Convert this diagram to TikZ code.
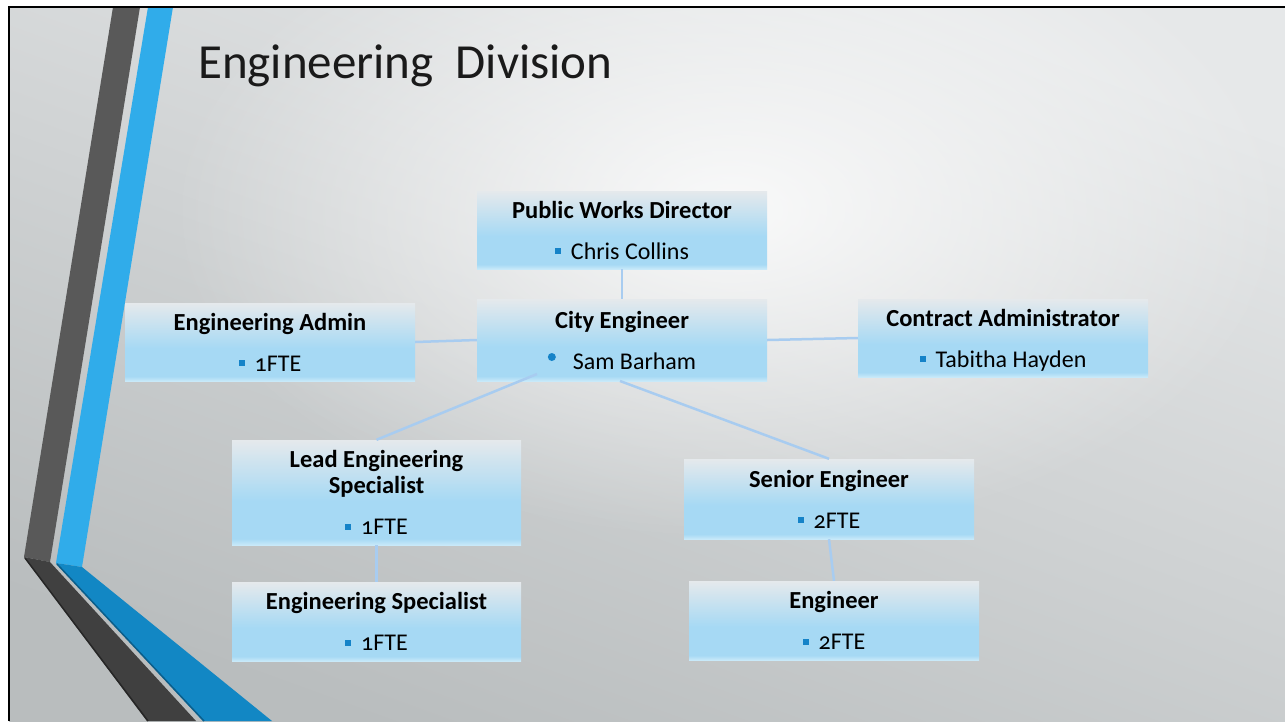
\documentclass[tikz,border=0pt]{standalone}
\usepackage{fontspec}
\setmainfont{Carlito}
\newfontfamily\onumfont[Numbers=OldStyle]{Carlito}
\usetikzlibrary{calc,fadings}
\definecolor{boxtop}{HTML}{E5E9EC}
\definecolor{boxmid}{HTML}{A6D9F4}
\definecolor{boxbot}{HTML}{C8E9F9}
\definecolor{bgtop}{HTML}{E6E8E9}
\definecolor{bgbot}{HTML}{B9BDBE}
\definecolor{bulblue}{HTML}{1583C8}
\definecolor{linkblue}{HTML}{A8CCF0}
\definecolor{banddark}{HTML}{595959}
\definecolor{banddarklow}{HTML}{404040}
\definecolor{bandblue}{HTML}{30ACEA}
\definecolor{bandbluelow}{HTML}{1287C4}
\definecolor{edgeblue}{HTML}{0B5E8A}
\definecolor{titlecol}{HTML}{1A1A1A}
\pgfdeclareverticalshading{boxshade}{100bp}{color(0bp)=(boxbot); color(25bp)=(boxbot); color(28bp)=(boxmid); color(46bp)=(boxmid); color(75bp)=(boxtop); color(100bp)=(boxtop)}
\tikzfading[name=spotfade, inner color=transparent!15, outer color=transparent!100]
\newcommand{\sqbul}{\textcolor{bulblue}{\rule[5pt]{6pt}{6pt}}\hspace{10pt}}
\newcommand{\fte}[1]{{\onumfont #1}}
\newcommand{\hd}[1]{{\fontsize{24.5}{26}\selectfont\bfseries #1}}
\newcommand{\nodepth}[1]{\raisebox{0pt}[\height][0pt]{#1}}
\tikzset{
  orgbox/.style={minimum width=290, minimum height=78, inner sep=0pt, shading=boxshade, align=center, font=\fontsize{24}{26}\selectfont, text=black},
  link/.style={draw=linkblue, line width=2.5pt},
}
\begin{document}
\begin{tikzpicture}[x=1pt,y=-1pt]
\useasboundingbox (0,0) rectangle (1285,721);
\fill[white] (0,0) rectangle (1285,721);
\shade[top color=bgtop, bottom color=bgbot, shading angle=-20] (9,6) rectangle (1285,721);
\begin{scope}
\clip (9,6) rectangle (1285,721);
\fill[white, path fading=spotfade] (730,210) ellipse (560 and 330);
\end{scope}
% left bands
\fill[banddark] (113,7) -- (140,7) -- (50,562) -- (24,557) -- cycle;
\fill[bandblue] (148,7) -- (173,7) -- (82,567) -- (56,563) -- cycle;
\fill[banddarklow] (24,557) -- (50,562) -- (196,721) -- (147,721) -- cycle;
\draw[black!85, line width=1.5pt] (25,558) -- (148,721);
\fill[bandbluelow] (56,563) -- (82,567) -- (272,721) -- (203,721) -- cycle;
\draw[edgeblue, line width=1.5pt] (57,564) -- (204,721);
% border
\draw[black, line width=2pt] (9,721) -- (9,6.5) -- (1285,6.5);
% title
\node[anchor=base west, font=\fontsize{49}{59}\selectfont, text=titlecol, inner sep=0pt] (title) at (198,78) {Engineering\hspace{0.45em}Division};
% boxes
\node[orgbox] (pwd) at (622,230) {\hd{Public Works Director}\\[15pt]\sqbul Chris Collins};
\node[orgbox, minimum height=82] (ce) at (622,340) {\hd{City Engineer}\\[15pt]\tikz[baseline=-12pt]\fill[bulblue] (0,0) circle (4pt);\hspace{17pt}Sam Barham};
\node[orgbox] (admin) at (270,342) {\hd{Engineering Admin}\\[15pt]\sqbul\fte{1FTE}};
\node[orgbox] (contract) at (1003,338) {\hd{Contract Administrator}\\[15pt]\sqbul\nodepth{Tabitha Hayden}};
\node[orgbox, minimum width=289, minimum height=105] (lead) at (376.5,492.5) {\hd{Lead Engineering}\\\hd{Specialist}\\[15pt]\sqbul\fte{1FTE}};
\node[orgbox, minimum width=289, minimum height=79] (spec) at (376.5,621.5) {\hd{Engineering Specialist}\\[15pt]\sqbul\fte{1FTE}};
\node[orgbox, minimum height=80] (senior) at (829,499) {\hd{Senior Engineer}\\[15pt]\sqbul\fte{2FTE}};
\node[orgbox, minimum height=79] (eng) at (834,620.5) {\hd{Engineer}\\[15pt]\sqbul\fte{2FTE}};
% connectors
\coordinate (ceL) at (537,374);
\coordinate (ceR) at (620,381);
\draw[link] (pwd.south) -- (ce.north);
\draw[link] (ce.west) -- (admin.east);
\draw[link] (ce.east) -- (contract.west);
\draw[link] (ceL) -- (lead.north);
\draw[link] (ceR) -- (senior.north);
\draw[link] (lead.south) -- (spec.north);
\draw[link] (senior.south) -- (eng.north);
\end{tikzpicture}
\end{document}
